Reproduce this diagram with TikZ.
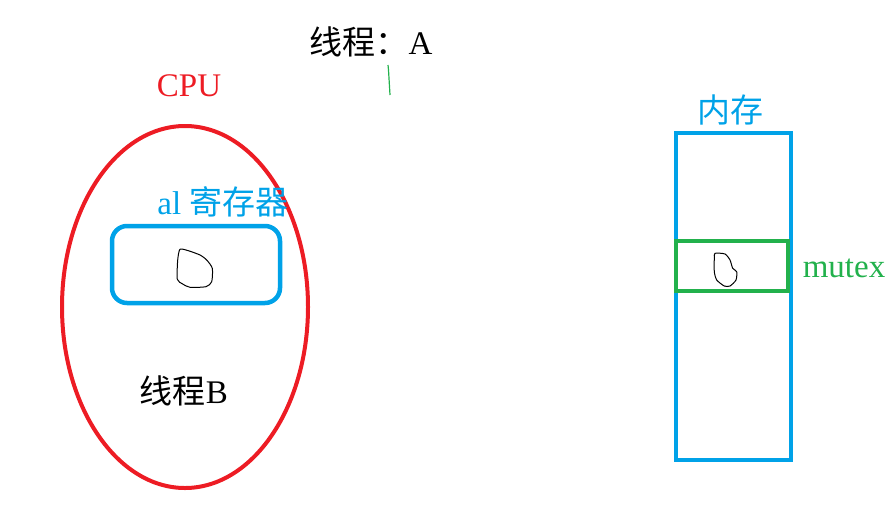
\documentclass[tikz,border=0pt]{standalone}
\usepackage{fontspec}
\usetikzlibrary{shapes.geometric}
\setmainfont{Liberation Serif}
\newfontfamily\cjk{Noto Sans CJK SC}
\definecolor{cpured}{RGB}{237,28,36}
\definecolor{regblue}{RGB}{0,162,232}
\definecolor{mgreen}{RGB}{34,177,76}
\begin{document}
\begin{tikzpicture}[x=1pt,y=-1pt,
  lbl/.style={inner sep=0pt, font=\fontsize{33}{38}\selectfont},
  thin blob/.style={draw=black, line width=1pt, line join=round}]
\useasboundingbox (0,0) rectangle (885,512);
% CPU ellipse
\node[draw=cpured, line width=4pt, ellipse, minimum width=246pt, minimum height=362pt, inner sep=0pt] (cpu) at (185,307) {};
\node[lbl, text=cpured] (cpulbl) at (189,86) {CPU};
% register
\node[draw=regblue, line width=4.5pt, rounded corners=15pt, minimum width=168pt, minimum height=77pt, inner sep=0pt] (reg) at (196,264.5) {};
\node[lbl, text=regblue] (reglbl) at (223,202) {al {\cjk 寄存器}};
\draw[thin blob] plot[smooth cycle, tension=0.4] coordinates {(180,249.3) (188.3,250.7) (200,255) (206.7,260) (212.3,268.3) (211.7,281.7) (206,286.7) (190,287.3) (182.7,284) (177.3,279.3) (177.7,260)};
\node[lbl, text=black] (thb) at (184,391) {{\cjk 线程}B};
% thread A
\node[lbl, text=black] (tha) at (371,42) {{\cjk 线程：}A};
\coordinate (g1) at (388,65);
\coordinate (g2) at (388.5,70);
\coordinate (g3) at (390,95);
\draw[mgreen, line width=1.2pt] (g1) -- (g2) -- (g3);
% memory
\node[draw=regblue, line width=4.5pt, minimum width=115pt, minimum height=327pt, inner sep=0pt] (mem) at (733.5,296.5) {};
\node[lbl, text=regblue] (memlbl) at (730,110) {\cjk 内存};
\node[draw=mgreen, line width=4.5pt, minimum width=112pt, minimum height=50pt, inner sep=0pt] (mtx) at (732,266) {};
\node[lbl, text=mgreen] (mtxlbl) at (844,268) {mutex};
\draw[thin blob] plot[smooth cycle, tension=0.4] coordinates {(715,253.3) (725,254) (730,260) (732.7,268.3) (736.7,271.7) (736,280) (730,286) (724.3,286) (716.7,280) (714.3,271.7) (714.3,258.3)};
\end{tikzpicture}
\end{document}
